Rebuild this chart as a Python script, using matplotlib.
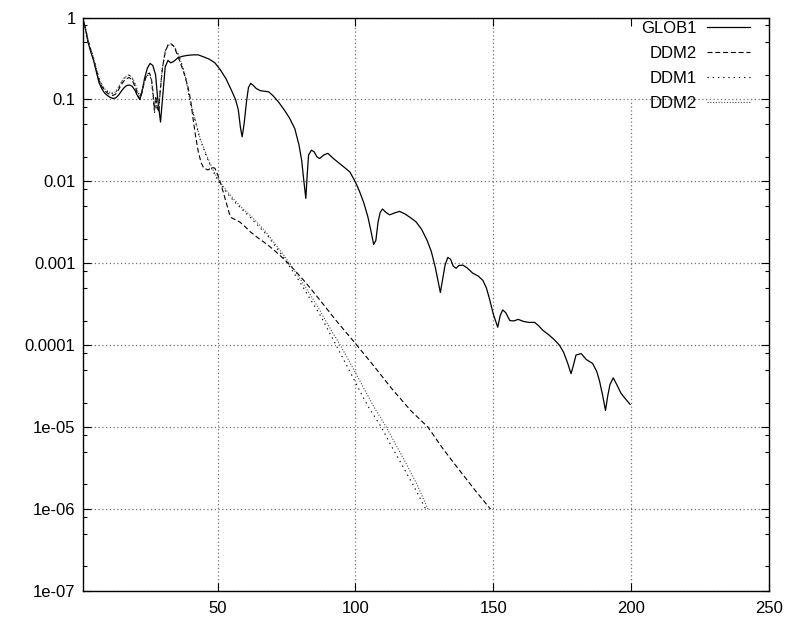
import matplotlib
matplotlib.use("Agg")
import matplotlib.pyplot as plt
from matplotlib.ticker import FixedLocator, LogLocator, NullLocator

plt.rcParams["font.family"] = ["Liberation Sans", "DejaVu Sans"]

# GLOB1 (solid)
glob_x = [1, 2, 3, 4, 5, 6, 7, 8, 9, 10, 11, 12, 13, 14, 15, 16, 17, 18, 19, 20,
          21, 21.8, 22.5, 23.5, 24.5, 25.5, 26.5, 27.5, 28.3, 29.3, 30.2, 31, 32, 33, 34,
          35.5, 37, 39, 41, 43, 45, 47, 49, 51, 53, 55, 56.5, 57.5, 58.3, 58.9, 59.6,
          60.5, 61.2, 62, 63, 64, 65.5, 67, 68.5, 70, 72, 74, 76, 78, 79.5, 80.5, 81.3,
          82, 82.5, 83, 84, 85, 86, 87, 88.5, 90, 92, 94, 96, 98, 100, 101.5, 103, 104.5,
          105.5, 106.6, 107.4, 108.2, 109, 109.8, 111, 112.4, 114, 116, 118, 120, 122,
          124, 126, 127.5, 129, 130, 130.8, 131.5, 132.5, 133.5, 134.5, 135.5, 136.5,
          137.5, 139, 140.5, 142.5, 144.5, 146.2, 147.5, 148.6, 150, 151.6, 152.5, 153.4,
          154.5, 156, 157.5, 159, 161, 163, 165, 166.5, 168, 170, 172, 174, 175.5, 177,
          178.2, 179, 180, 181.9, 183.7, 186, 187.5, 188.5, 189.7, 190.7, 191.5, 192.3,
          193.5, 194.8, 196.3, 198, 199.6]
glob_y = [1.0, 0.75, 0.5, 0.38, 0.3, 0.22, 0.16, 0.135, 0.12, 0.112, 0.106, 0.103,
          0.104, 0.112, 0.125, 0.138, 0.148, 0.15, 0.145, 0.13, 0.11, 0.1, 0.12, 0.18,
          0.24, 0.275, 0.26, 0.2, 0.1, 0.053, 0.12, 0.25, 0.3, 0.28, 0.29, 0.32, 0.335,
          0.345, 0.35, 0.35, 0.33, 0.31, 0.28, 0.23, 0.18, 0.13, 0.1, 0.075, 0.045, 0.035,
          0.05, 0.095, 0.14, 0.157, 0.148, 0.136, 0.128, 0.126, 0.124, 0.112, 0.094,
          0.076, 0.06, 0.044, 0.028, 0.018, 0.01, 0.0062, 0.012, 0.021, 0.024, 0.023,
          0.02, 0.019, 0.021, 0.022, 0.019, 0.0168, 0.0148, 0.013, 0.0098, 0.0075,
          0.0055, 0.0037, 0.0026, 0.0017, 0.0019, 0.0032, 0.0042, 0.0046, 0.0042, 0.0039,
          0.0041, 0.0043, 0.004, 0.0036, 0.0032, 0.0026, 0.0019, 0.0014, 0.00088, 0.0006,
          0.00044, 0.0006, 0.00095, 0.00118, 0.00112, 0.00092, 0.00087, 0.00094, 0.00095,
          0.00088, 0.00076, 0.0007, 0.00062, 0.0005, 0.00037, 0.00024, 0.000166, 0.00023,
          0.00027, 0.00025, 0.0002, 0.000198, 0.000207, 0.000195, 0.00019, 0.00019,
          0.000172, 0.000152, 0.000135, 0.000118, 0.0001, 8.2e-5, 6e-5, 4.5e-5, 5.6e-5,
          7.6e-5, 7.9e-5, 6.7e-5, 6.0e-5, 4.8e-5, 3.7e-5, 2.4e-5, 1.6e-5, 2.4e-5, 3.3e-5,
          4.0e-5, 3.3e-5, 2.6e-5, 2.2e-5, 1.9e-5]

# DDM2 (dashed)
ddm2_x = [1, 2, 3, 4, 5, 6, 7, 8, 9, 10, 11, 12, 13, 14, 15, 16, 17, 18, 19, 20, 21,
          21.8, 22.5, 23.5, 24.5, 25.3, 26, 26.6, 27.1, 27.6, 28.1, 28.6, 29.2, 30, 31,
          32, 33, 34, 35, 36.5, 38, 39.3, 40.3, 41.2, 42, 43, 44, 45, 46.5, 48, 49,
          50.5, 52, 53.2, 54.2, 55, 56.5, 58, 59.5, 62, 65, 68, 71, 74.4, 78, 82, 87,
          93, 100, 107, 113, 120, 126.3, 132, 138, 144, 149]
ddm2_y = [1.0, 0.75, 0.52, 0.4, 0.31, 0.23, 0.17, 0.145, 0.128, 0.12, 0.114, 0.112,
          0.116, 0.13, 0.15, 0.168, 0.18, 0.185, 0.172, 0.145, 0.115, 0.1, 0.12, 0.17,
          0.205, 0.21, 0.18, 0.12, 0.075, 0.11, 0.08, 0.07, 0.13, 0.24, 0.38, 0.46, 0.48,
          0.45, 0.38, 0.28, 0.2, 0.14, 0.095, 0.055, 0.036, 0.023, 0.017, 0.0145, 0.0138,
          0.0148, 0.0145, 0.011, 0.0075, 0.0054, 0.0041, 0.0036, 0.0034, 0.0032, 0.0029,
          0.0024, 0.002, 0.0017, 0.0014, 0.0011, 0.00082, 0.00058, 0.00036, 0.0002,
          0.000105, 5.4e-5, 3.0e-5, 1.6e-5, 1.0e-5, 5.3e-6, 2.9e-6, 1.6e-6, 1.0e-6]

# DDM1 (dotted)
ddm1_x = [1, 2, 3, 4, 5, 6, 7, 8, 9, 10, 11, 12, 13, 14, 15, 16, 17, 18, 19, 20, 21,
          21.8, 22.5, 23.5, 24.5, 25.3, 26, 26.6, 27.1, 27.6, 28.1, 28.7, 29.3, 30, 31,
          32, 33.2, 34.3, 35.5, 37, 38.5, 40, 41.8, 43.6, 46, 48, 50, 53, 56, 59, 62,
          65, 68, 71, 74, 77, 80, 83.5, 87, 90, 93, 96, 99, 102, 105, 109.4, 113, 117,
          121, 125.5]
ddm1_y = [1.0, 0.76, 0.53, 0.41, 0.32, 0.24, 0.18, 0.15, 0.133, 0.125, 0.12, 0.118,
          0.122, 0.137, 0.158, 0.178, 0.192, 0.197, 0.183, 0.155, 0.125, 0.108, 0.125,
          0.165, 0.195, 0.2, 0.17, 0.11, 0.068, 0.1, 0.075, 0.08, 0.14, 0.25, 0.39, 0.46,
          0.47, 0.44, 0.37, 0.27, 0.18, 0.092, 0.056, 0.033, 0.02, 0.014, 0.0105, 0.0075,
          0.0057, 0.0045, 0.0036, 0.0028, 0.0022, 0.0016, 0.00118, 0.00082, 0.00058,
          0.00037, 0.00024, 0.000155, 0.0001, 6.4e-5, 4.1e-5, 2.6e-5, 1.7e-5, 1.0e-5,
          5.9e-6, 3.4e-6, 1.95e-6, 1.0e-6]

# second DDM2 (fine dotted)
ddm2b_x = [1, 2, 3, 4, 5, 6, 7, 8, 9, 10, 11, 12, 13, 14, 15, 16, 17, 18, 19, 20, 21,
           21.8, 22.5, 23.5, 24.5, 25.3, 26, 26.6, 27.1, 27.6, 28.1, 28.7, 29.3, 30, 31,
           32, 33.2, 34.3, 35.5, 37, 38.5, 40, 41.8, 43.6, 46, 48, 50, 53, 56, 59, 62,
           65, 68, 71, 74, 77, 80, 83.5, 87, 90, 94.5, 97.5, 100.5, 104, 107, 111.2, 115,
           119, 122.5, 126.3]
ddm2b_y = [1.0, 0.76, 0.53, 0.41, 0.32, 0.24, 0.18, 0.152, 0.135, 0.127, 0.122, 0.12,
           0.124, 0.14, 0.162, 0.182, 0.195, 0.2, 0.186, 0.158, 0.127, 0.11, 0.127,
           0.168, 0.198, 0.203, 0.172, 0.112, 0.07, 0.102, 0.077, 0.082, 0.142, 0.25,
           0.39, 0.46, 0.47, 0.44, 0.37, 0.27, 0.18, 0.095, 0.058, 0.034, 0.021, 0.0145,
           0.0108, 0.0079, 0.006, 0.0047, 0.0038, 0.003, 0.0023, 0.0017, 0.00126, 0.0009,
           0.00064, 0.00042, 0.00027, 0.000178, 0.0001, 6.6e-5, 4.3e-5, 2.6e-5, 1.7e-5,
           1.0e-5, 5.8e-6, 3.3e-6, 1.95e-6, 1.0e-6]

x_ticks = [50, 100, 150, 200, 250]
y_ticks = [1, 0.1, 0.01, 0.001, 0.0001, 1e-5, 1e-6, 1e-7]
y_labels = ["1", "0.1", "0.01", "0.001", "0.0001", "1e-05", "1e-06", "1e-07"]

fig = plt.figure(figsize=(7.88, 6.17), dpi=100)
ax = fig.add_axes([0.1047, 0.0421, 0.8712, 0.9295])

ax.plot(glob_x, glob_y, color="black", lw=0.9, label="GLOB1")
ax.plot(ddm2_x, ddm2_y, color="black", lw=0.8, ls=(0, (4.5, 2.5)), label="DDM2")
ax.plot(ddm1_x, ddm1_y, color="black", lw=0.8, ls=(0, (1.2, 3.5)), label="DDM1")
ax.plot(ddm2b_x, ddm2b_y, color="0.3", lw=0.8, ls=(0, (1, 1.5)), label="DDM2")

ax.set_yscale("log")
ax.set_xlim(1, 250)
ax.set_ylim(1e-7, 1)

ax.xaxis.set_major_locator(FixedLocator(x_ticks))
ax.xaxis.set_minor_locator(NullLocator())
ax.set_yticks(y_ticks)
ax.set_yticklabels(y_labels)
ax.yaxis.set_minor_locator(LogLocator(base=10, subs=(2, 5, 8)))
ax.yaxis.set_minor_formatter(plt.NullFormatter())

ax.tick_params(which="both", direction="in", top=True, right=True, labelsize=12,
               width=0.8)
ax.tick_params(which="major", length=6)
ax.tick_params(which="minor", length=3)
ax.tick_params(axis="x", pad=7)
ax.tick_params(axis="y", pad=5)

# grid: dotted, the x=200 line stops under the key
grid_kw = dict(color="0.45", lw=0.9, ls=(0, (1, 2)), zorder=0)
ax.yaxis.grid(True, **grid_kw)
for xt in x_ticks[:-1]:
    top = 0.855 if xt == 200 else 1
    ax.axvline(xt, ymax=top, **grid_kw)

for sp in ax.spines.values():
    sp.set_linewidth(1.0)

ax.legend(loc="upper right", bbox_to_anchor=(0.9723, 0.994), frameon=False,
          markerfirst=False, fontsize=12, handlelength=2.6, handletextpad=0.6,
          labelspacing=0.6, borderpad=0, borderaxespad=0)

fig.savefig("out.png", dpi=100)
